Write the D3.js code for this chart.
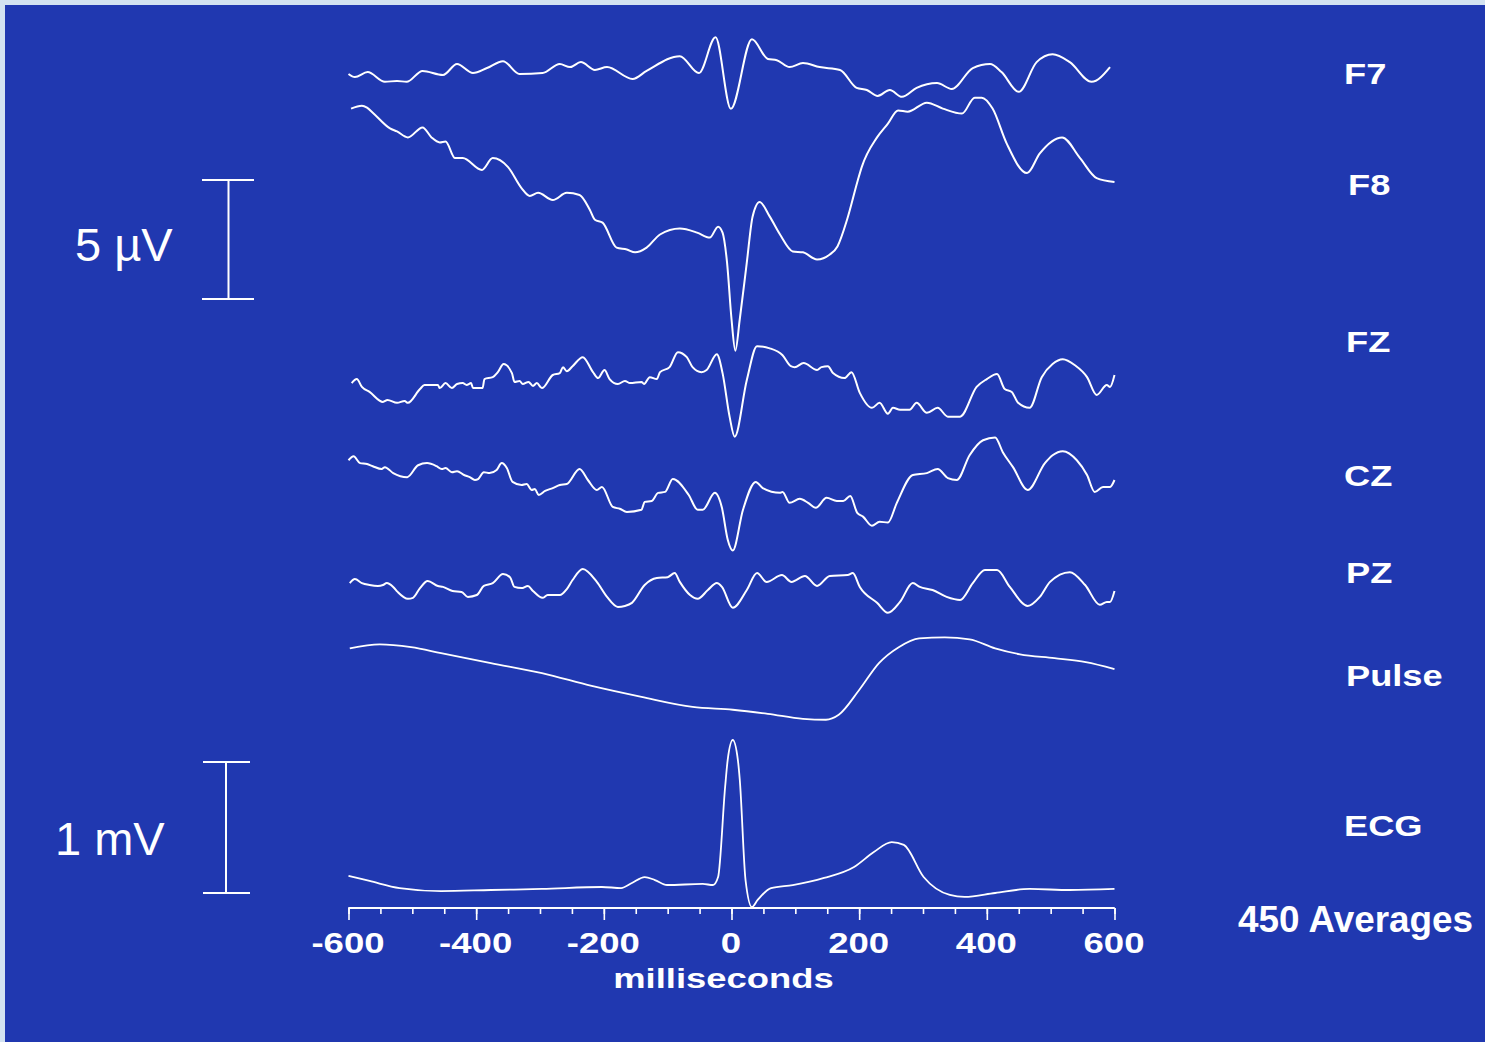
<!DOCTYPE html>
<html>
<head>
<meta charset="utf-8">
<script src="https://cdn.jsdelivr.net/npm/d3@7"></script>
<style>
html,body{margin:0;padding:0;background:#d3e2f1;}
svg{display:block;}
</style>
</head>
<body>
<svg id="chart" width="1485" height="1042"></svg>
<script>
// ---------- DATA (time in ms, EEG in µV, ECG in mV, pulse in arbitrary units) ----------
const channelNames = ["F7", "F8", "FZ", "CZ", "PZ", "Pulse", "ECG"];
const xTickLabels = [-600, -400, -200, 0, 200, 400, 600];
const xMinorTicks = d3.range(-600, 601, 50);
const axisTitle = "milliseconds";
const averagesLabel = "450 Averages";
const eegScaleLabel = "5 µV";
const ecgScaleLabel = "1 mV";

const f7 = [[-600,0],[-590,-0.13],[-570,0.08],[-543,-0.33],[-524,-0.29],[-509,-0.33],[-484,0.13],[-452,-0.04],[-430,0.42],[-405,0.04],[-383,0.25],[-358,0.54],[-332,0],[-296,0.04],[-269,0.42],[-253,0.29],[-236,0.5],[-214,0.17],[-195,0.29],[-155,-0.21],[-133,0.13],[-81,0.75],[-51,0.04],[-25,1.54],[-1,-1.46],[32,1.46],[57,0.63],[71,0.58],[91,0.29],[112,0.46],[138,0.29],[170,0.17],[196,-0.58],[212,-0.67],[229,-0.92],[248,-0.67],[267,-0.96],[290,-0.58],[322,-0.38],[345,-0.63],[378,0.25],[405,0.42],[423,0.08],[450,-0.75],[478,0.5],[503,0.83],[530,0.5],[564,-0.33],[593,0.29]];

const f8 = [[-596,3.21],[-579,3.33],[-571,3.25],[-562,3.04],[-535,2.38],[-524,2.25],[-507,2.0],[-484,2.42],[-470,2.0],[-457,1.79],[-448,1.83],[-433,1.13],[-421,1.13],[-391,0.63],[-374,1.13],[-350,0.75],[-329,-0.13],[-316,-0.46],[-303,-0.33],[-280,-0.63],[-258,-0.33],[-238,-0.42],[-222,-1.04],[-214,-1.46],[-202,-1.58],[-180,-2.63],[-164,-2.71],[-151,-2.83],[-133,-2.63],[-112,-2.08],[-81,-1.83],[-54,-2.0],[-34,-2.21],[-21,-1.75],[-14,-2.0],[-7,-3.25],[0,-5.63],[6,-6.96],[13,-5.63],[24,-3.25],[33,-1.33],[44,-0.71],[60,-1.33],[76,-2.08],[96,-2.79],[112,-2.83],[134,-3.13],[154,-2.92],[166,-2.58],[181,-1.46],[198,0.21],[204,0.75],[228,2.0],[245,2.58],[261,3.13],[276,3.08],[306,3.46],[331,3.21],[361,3.0],[381,3.67],[392,3.67],[409,3.21],[431,1.75],[463,0.5],[483,1.33],[518,2.0],[546,1.13],[572,0.29],[600,0.13]];

const fz = [[-595,0.08],[-587,0.25],[-579,-0.08],[-567,-0.29],[-546,-0.71],[-539,-0.63],[-524,-0.75],[-512,-0.67],[-507,-0.75],[-488,-0.17],[-481,0],[-460,0],[-457,-0.13],[-448,0.08],[-438,-0.13],[-430,0.04],[-421,0.08],[-415,0],[-408,0.08],[-405,-0.13],[-390,-0.13],[-387,0.25],[-374,0.33],[-366,0.54],[-357,0.88],[-344,0.5],[-340,0.13],[-332,0.17],[-327,0.04],[-318,0.13],[-311,-0.04],[-305,0.08],[-297,-0.13],[-280,0.42],[-269,0.5],[-264,0.75],[-258,0.58],[-249,0.79],[-233,1.17],[-217,0.54],[-209,0.29],[-199,0.63],[-191,0.25],[-178,0.04],[-167,0.17],[-159,0.08],[-141,0.13],[-137,0.04],[-128,0.33],[-117,0.25],[-112,0.54],[-97,0.75],[-84,1.38],[-70,1.17],[-61,0.75],[-47,0.54],[-39,0.63],[-23,1.29],[-14,0.5],[-3,-1.33],[5,-2.17],[24,0.21],[40,1.63],[60,1.54],[80,1.25],[93,0.79],[99,0.75],[113,0.92],[134,0.63],[141,0.75],[151,0.79],[159,0.5],[177,0.29],[188,0.54],[201,-0.33],[220,-0.96],[232,-0.75],[245,-1.21],[253,-0.96],[264,-1.04],[279,-1.04],[290,-0.75],[306,-1.17],[323,-0.96],[339,-1.33],[358,-1.33],[384,-0.08],[400,0.25],[416,0.46],[428,-0.17],[439,-0.29],[449,-0.75],[467,-0.96],[486,0.33],[503,0.88],[519,1.08],[538,0.83],[557,0.33],[572,-0.42],[588,0],[593,-0.08],[600,0.42]];

const cz = [[-600,1.04],[-592,1.21],[-582,0.92],[-571,0.88],[-562,0.79],[-548,0.67],[-543,0.75],[-530,0.5],[-508,0.33],[-491,0.83],[-477,0.92],[-462,0.79],[-454,0.67],[-448,0.71],[-438,0.54],[-430,0.58],[-419,0.42],[-410,0.33],[-402,0.21],[-397,0.25],[-388,0.54],[-379,0.5],[-368,0.63],[-360,0.92],[-352,0.71],[-343,0.13],[-329,0],[-321,0.04],[-313,-0.21],[-308,-0.17],[-302,-0.42],[-292,-0.25],[-280,-0.13],[-269,0],[-258,0.04],[-238,0.67],[-225,0.21],[-211,-0.21],[-203,-0.08],[-186,-0.92],[-175,-1.0],[-164,-1.13],[-141,-1.04],[-136,-0.71],[-125,-0.67],[-115,-0.33],[-104,-0.29],[-92,0.25],[-67,-0.42],[-53,-1.04],[-45,-1.04],[-26,-0.33],[-15,-0.96],[-6,-2.29],[2,-2.75],[18,-1.04],[38,0.13],[49,-0.13],[76,-0.33],[80,-0.29],[91,-0.75],[107,-0.58],[120,-0.75],[132,-0.96],[149,-0.54],[165,-0.67],[175,-0.67],[186,-0.46],[197,-1.17],[206,-1.33],[220,-1.71],[232,-1.54],[245,-1.58],[259,-0.75],[284,0.42],[306,0.5],[323,0.67],[339,0.29],[353,0.21],[373,1.25],[394,1.88],[413,2.0],[425,1.38],[441,0.75],[464,-0.21],[491,0.92],[503,1.25],[519,1.42],[541,1.04],[557,0.42],[569,-0.29],[582,-0.08],[593,-0.08],[600,0.21]];

const pz = [[-598,0.08],[-590,0.25],[-579,0.08],[-567,0],[-554,-0.04],[-546,0],[-540,0.08],[-530,-0.08],[-523,-0.29],[-507,-0.58],[-499,-0.54],[-488,-0.13],[-476,0.17],[-460,-0.04],[-452,-0.08],[-437,-0.25],[-423,-0.29],[-413,-0.5],[-399,-0.42],[-388,-0.04],[-374,0.08],[-358,0.46],[-347,0.33],[-340,-0.08],[-329,-0.13],[-319,-0.04],[-311,-0.25],[-296,-0.54],[-288,-0.42],[-269,-0.42],[-258,-0.17],[-249,0.21],[-233,0.67],[-211,0.13],[-195,-0.5],[-178,-0.92],[-167,-0.88],[-156,-0.75],[-136,0],[-117,0.29],[-100,0.33],[-89,0.5],[-81,0.13],[-65,-0.42],[-53,-0.58],[-37,-0.21],[-23,0.08],[-15,-0.08],[2,-0.96],[24,-0.21],[40,0.5],[55,0.13],[79,0.42],[94,0.13],[115,0.38],[134,-0.04],[154,0.38],[182,0.42],[190,0.5],[201,-0.08],[228,-0.75],[245,-1.17],[264,-0.71],[284,0.08],[295,-0.08],[315,-0.21],[337,-0.5],[358,-0.63],[378,0.08],[397,0.63],[416,0.63],[436,-0.08],[464,-0.88],[483,-0.5],[499,0.13],[530,0.54],[554,0],[577,-0.83],[588,-0.71],[593,-0.71],[600,-0.25]];

const pulse = [[-598,1.33],[-551,1.5],[-502,1.38],[-455,1.13],[-377,0.71],[-297,0.29],[-219,-0.25],[-141,-0.71],[-61,-1.13],[2,-1.25],[57,-1.42],[112,-1.63],[148,-1.67],[168,-1.46],[200,-0.42],[231,0.71],[262,1.38],[294,1.75],[334,1.79],[373,1.71],[413,1.33],[452,1.08],[506,0.92],[555,0.75],[600,0.46]];

const ecg = [[-600,0.107],[-567,0.069],[-520,0.015],[-455,-0.008],[-377,0],[-297,0.008],[-203,0.023],[-173,0.015],[-156,0.053],[-136,0.099],[-120,0.076],[-101,0.038],[-45,0.046],[-29,0.038],[-21,0.099],[-10,0.786],[-6,0.992],[2,1.145],[10,0.992],[13,0.84],[22,0.076],[32,-0.13],[41,-0.076],[62,0.015],[96,0.038],[145,0.092],[192,0.176],[223,0.29],[251,0.366],[270,0.344],[301,0.099],[342,-0.038],[365,-0.053],[413,-0.023],[467,0.008],[530,0],[600,0.008]];

// ---------- LAYOUT ----------
const W = 1485, H = 1042;
const svg = d3.select("#chart");
const bg = "#2038B0";
const white = "#ffffff";

svg.append("rect").attr("x", 5).attr("y", 5).attr("width", W - 5).attr("height", H - 5).attr("fill", bg);

const x = d3.scaleLinear().domain([-600, 600]).range([348.5, 1114.5]);

const eegPxPer5 = 119;          // 5 µV = 119 px
const ecgPxPer1 = 131;          // 1 mV = 131 px
function eegScale(base) { return d3.scaleLinear().domain([0, 5]).range([base, base - eegPxPer5]); }

const traces = [
  { name: "F7", data: f7, y: eegScale(74), labelX: 1344, labelY: 84, curve: d3.curveMonotoneX },
  { name: "F8", data: f8, y: eegScale(185), labelX: 1348, labelY: 195, curve: d3.curveMonotoneX },
  { name: "FZ", data: fz, y: eegScale(385), labelX: 1346, labelY: 352, curve: d3.curveMonotoneX },
  { name: "CZ", data: cz, y: eegScale(485), labelX: 1344, labelY: 486, curve: d3.curveMonotoneX },
  { name: "PZ", data: pz, y: eegScale(585), labelX: 1346, labelY: 583, curve: d3.curveMonotoneX },
  { name: "Pulse", data: pulse, y: eegScale(680), labelX: 1346, labelY: 686, curve: d3.curveMonotoneX },
  { name: "ECG", data: ecg, y: d3.scaleLinear().domain([0, 1]).range([890, 890 - ecgPxPer1]), labelX: 1344, labelY: 836, curve: d3.curveMonotoneX }
];

const g = svg.append("g");
traces.forEach((tr, i) => {
  const line = d3.line()
    .x(d => x(d[0]))
    .y(d => tr.y(d[1]))
    .curve(tr.curve);
  g.append("path")
    .datum(tr.data)
    .attr("d", line)
    .attr("fill", "none")
    .attr("stroke", white)
    .attr("stroke-width", (tr.name === "Pulse" || tr.name === "ECG") ? 1.8 : 2)
    .attr("stroke-linejoin", "round");
  svg.append("text")
    .attr("transform", `translate(${tr.labelX},${tr.labelY}) scale(1.25,1)`)
    .attr("font-family", "'Liberation Sans', Arial, sans-serif")
    .attr("font-weight", "bold")
    .attr("font-size", 29)
    .attr("fill", white)
    .text(channelNames[i]);
});

// ---------- X AXIS ----------
const axisY = 908;
const minorAxis = d3.axisBottom(x).tickValues(xMinorTicks).tickSize(6).tickFormat("");
const majorAxis = d3.axisBottom(x).tickValues(xTickLabels).tickSize(12).tickFormat(d3.format("d"));

const gMinor = svg.append("g").attr("transform", `translate(0,${axisY})`).call(minorAxis);
const gMajor = svg.append("g").attr("transform", `translate(0,${axisY})`).call(majorAxis);
[gMinor, gMajor].forEach(a => {
  a.select(".domain").attr("stroke", white).attr("stroke-width", 2.2).attr("d", `M${x(-600)},0H${x(600)}`);
  a.selectAll(".tick line").attr("stroke", white).attr("stroke-width", 1.6);
});
gMajor.selectAll(".tick text")
  .attr("fill", white)
  .attr("font-family", "'Liberation Sans', Arial, sans-serif")
  .attr("font-weight", "bold")
  .attr("font-size", 29)
  .attr("y", 0).attr("dy", 0)
  .attr("transform", "translate(-1,45) scale(1.26,1)")
  .text(d => d3.format("d")(d).replace("−", "-"));

svg.append("text")
  .attr("transform", "translate(723.5,988) scale(1.3,1)")
  .attr("text-anchor", "middle")
  .attr("font-family", "'Liberation Sans', Arial, sans-serif")
  .attr("font-weight", "bold")
  .attr("font-size", 28)
  .attr("fill", white)
  .text(axisTitle);

svg.append("text")
  .attr("x", 1238).attr("y", 932)
  .attr("font-family", "'Liberation Sans', Arial, sans-serif")
  .attr("font-weight", "bold")
  .attr("font-size", 36)
  .attr("textLength", 235)
  .attr("lengthAdjust", "spacingAndGlyphs")
  .attr("fill", white)
  .text(averagesLabel);

// ---------- SCALE BARS ----------
function scaleBar(cx, y0, y1, x0, x1) {
  const sb = svg.append("g").attr("stroke", white).attr("stroke-width", 2);
  sb.append("line").attr("x1", cx).attr("x2", cx).attr("y1", y0).attr("y2", y1);
  sb.append("line").attr("x1", x0).attr("x2", x1).attr("y1", y0).attr("y2", y0);
  sb.append("line").attr("x1", x0).attr("x2", x1).attr("y1", y1).attr("y2", y1);
}
const eegBarScale = eegScale(299);
scaleBar(228.5, eegBarScale(5), eegBarScale(0), 202, 254);
const ecgBarScale = d3.scaleLinear().domain([0, 1]).range([893, 893 - ecgPxPer1]);
scaleBar(226, ecgBarScale(1), ecgBarScale(0), 203, 250);

svg.append("text")
  .attr("x", 75).attr("y", 261)
  .attr("font-family", "'Liberation Sans', Arial, sans-serif")
  .attr("font-size", 47)
  .attr("fill", white)
  .text(eegScaleLabel);
svg.append("text")
  .attr("x", 55).attr("y", 855)
  .attr("font-family", "'Liberation Sans', Arial, sans-serif")
  .attr("font-size", 47)
  .attr("fill", white)
  .text(ecgScaleLabel);
</script>
</body>
</html>
